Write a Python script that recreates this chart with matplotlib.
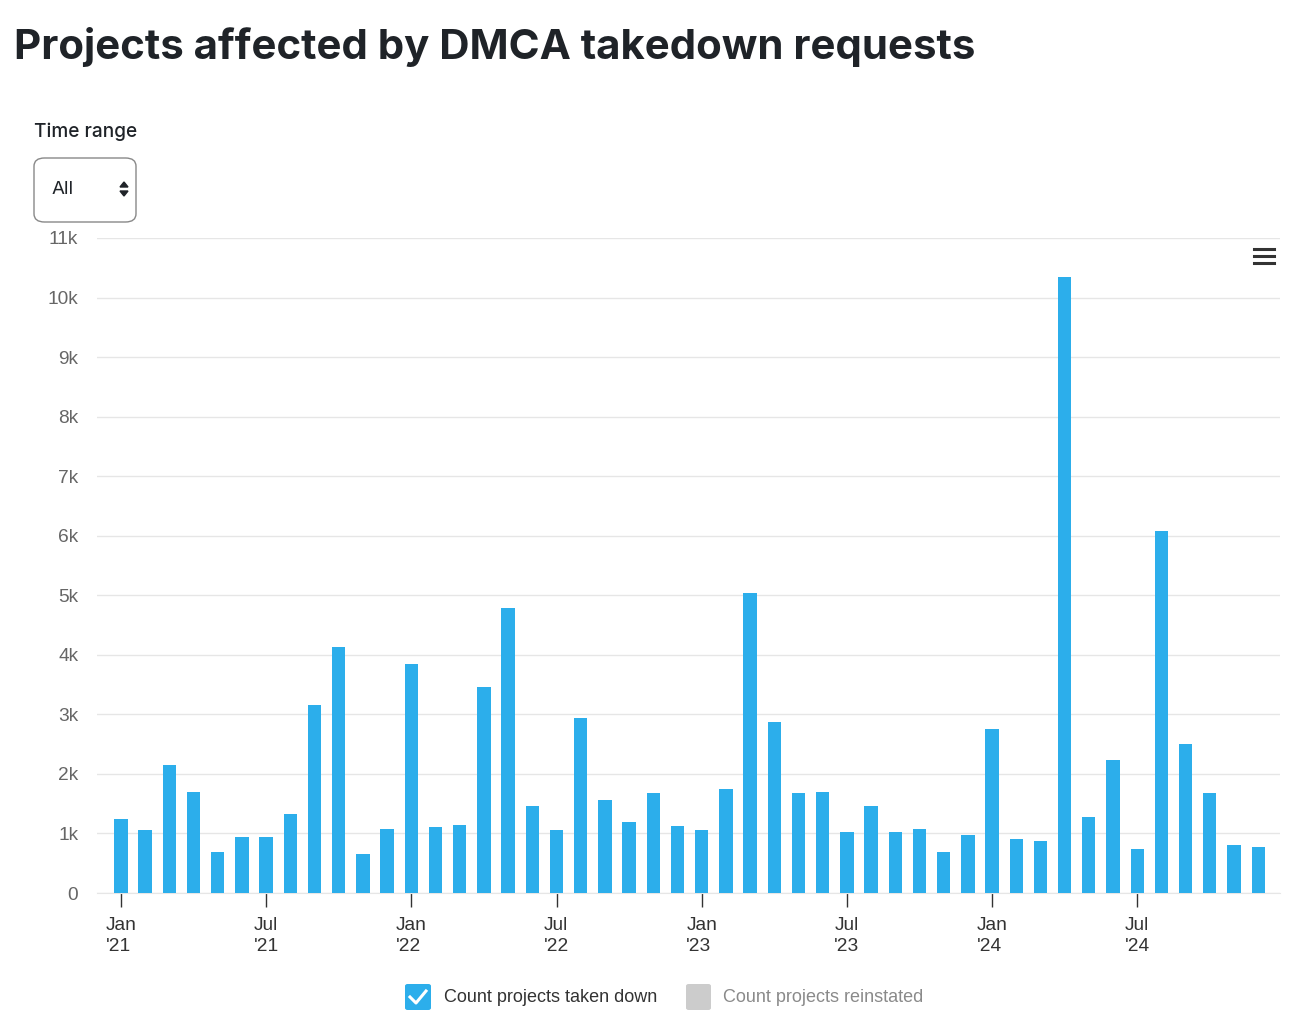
import numpy as np
import matplotlib.pyplot as plt
from matplotlib.patches import FancyBboxPatch, Polygon
from matplotlib.lines import Line2D

# monthly counts of projects taken down, Jan 2021 .. Dec 2024
taken_2021 = [1240, 1060, 2150, 1690, 690, 940, 940, 1330, 3160, 4130, 650, 1080]
taken_2022 = [3840, 1110, 1150, 3460, 4790, 1460, 1060, 2940, 1560, 1200, 1680, 1130]
taken_2023 = [1060, 1740, 5040, 2870, 1680, 1700, 1020, 1460, 1020, 1080, 690, 970]
taken_2024 = [2750, 900, 880, 10350, 1280, 2230, 740, 6080, 2510, 1680, 810, 770]
taken_down = taken_2021 + taken_2022 + taken_2023 + taken_2024

tick_labels = ["Jan\n'21", "Jul\n'21", "Jan\n'22", "Jul\n'22",
               "Jan\n'23", "Jul\n'23", "Jan\n'24", "Jul\n'24"]
y_ticks = list(range(0, 11001, 1000))
y_labels = ["0"] + [f"{k}k" for k in range(1, 12)]

title = "Projects affected by DMCA takedown requests"
legend_labels = ["Count projects taken down", "Count projects reinstated"]

W, H = 1313, 1026
BAR = "#2caeeb"


def fx(x):
    return x / W


def fy(y):
    return 1 - y / H


fig = plt.figure(figsize=(W / 100, H / 100), dpi=100)
fig.patch.set_facecolor("white")

ax = fig.add_axes([fx(97), fy(893), fx(1280) - fx(97), fy(238) - fy(893)])
x = np.arange(len(taken_down))
ax.bar(x, taken_down, width=0.55, color=BAR, zorder=3)

ax.set_xlim(-0.99, 47.9)
ax.set_ylim(0, 11000)
ax.set_yticks(y_ticks)
ax.set_yticklabels(y_labels, fontsize=13.8, color="#666666",
                   family="Liberation Sans")
ax.yaxis.grid(True, color="#e6e6e6", linewidth=1, zorder=0)
ax.tick_params(axis="y", length=0, pad=13.5)

ax.set_xticks(x[::6])
ax.set_xticklabels(tick_labels, fontsize=13.8, color="#333333",
                   family="Liberation Sans", multialignment="left",
                   linespacing=1.35)
ax.tick_params(axis="x", length=10, width=1, color="#333333", pad=7)

for s in ["top", "right", "left"]:
    ax.spines[s].set_visible(False)
ax.spines["bottom"].set_color("#e6e6e6")

# title
fig.text(fx(14), fy(47), title, fontsize=30.2, fontweight="bold",
         color="#1f2328", family="Inter", va="center", ha="left")

# time range selector
fig.text(fx(34), fy(132), "Time range", fontsize=13.7, color="#1f2328",
         family="Inter", fontweight="medium", va="center")
box = FancyBboxPatch((fx(34), fy(222)), fx(136) - fx(34), fy(158) - fy(222),
                     boxstyle="round,pad=0,rounding_size=0.008",
                     transform=fig.transFigure, facecolor="white",
                     edgecolor="#888888", linewidth=1)
fig.patches.append(box)
fig.text(fx(52), fy(189), "All", fontsize=13.5, color="#1f2328",
         family="Inter", va="center")
fig.patches.append(Polygon([[fx(120), fy(187)], [fx(128), fy(187)], [fx(124), fy(182)]],
                           closed=True, transform=fig.transFigure, color="#1f2328"))
fig.patches.append(Polygon([[fx(120), fy(191)], [fx(128), fy(191)], [fx(124), fy(196)]],
                           closed=True, transform=fig.transFigure, color="#1f2328"))

# hamburger menu
for yy in (249, 256, 263):
    fig.lines.append(Line2D([fx(1254), fx(1274)], [fy(yy), fy(yy)],
                            transform=fig.transFigure, color="#333333",
                            linewidth=2.2))

# legend
cb = FancyBboxPatch((fx(405), fy(1010)), fx(431) - fx(405), fy(984) - fy(1010),
                    boxstyle="round,pad=0,rounding_size=0.002",
                    transform=fig.transFigure, facecolor=BAR, edgecolor="none")
fig.patches.append(cb)
fig.lines.append(Line2D([fx(410), fx(416), fx(426)], [fy(997), fy(1003), fy(991)],
                        transform=fig.transFigure, color="white", linewidth=2.2))
fig.text(fx(444), fy(997), legend_labels[0], fontsize=13, color="#333333",
         family="Liberation Sans", va="center")
gb = FancyBboxPatch((fx(686), fy(1010)), fx(711) - fx(686), fy(984) - fy(1010),
                    boxstyle="round,pad=0,rounding_size=0.002",
                    transform=fig.transFigure, facecolor="#cccccc", edgecolor="none")
fig.patches.append(gb)
fig.text(fx(723), fy(997), legend_labels[1], fontsize=13, color="#8a8a8a",
         family="Liberation Sans", va="center")

fig.savefig("out.png", dpi=100)
